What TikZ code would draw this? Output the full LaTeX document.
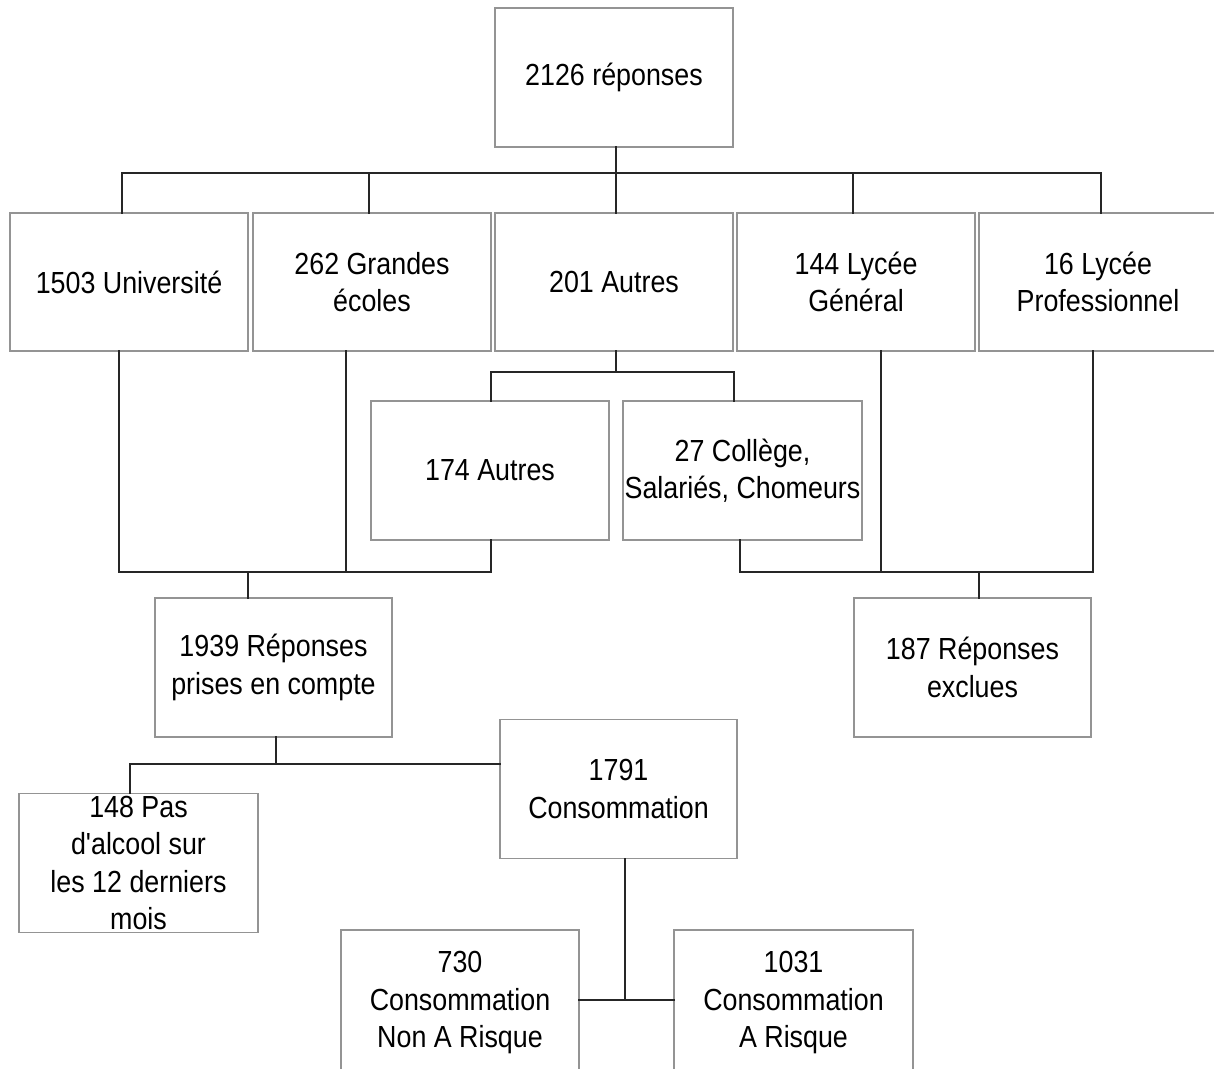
\documentclass[tikz,border=0pt]{standalone}
\usepackage{fontspec}
\newfontfamily\arl{Liberation Sans}[FakeStretch=0.88]
\begin{document}
\begin{tikzpicture}[x=1pt,y=-1pt,
  box/.style={draw=black!42, line width=1.3pt, fill=white, rectangle, inner sep=0pt, outer sep=0pt,
    align=center, font=\arl\fontsize{30.5}{37.5}\selectfont, text=black},
  conn/.style={draw=black!85, line width=1.8pt, line cap=rect}]
\useasboundingbox (0,0) rectangle (1214,1068);
\fill[white] (0,0) rectangle (1214,1068);
% boxes
\node[box, minimum width=238pt, minimum height=139pt] (top) at (614,77.5) {2126 réponses};
\node[box, minimum width=238pt, minimum height=138pt] (n1) at (129,282) {1503 Université};
\node[box, minimum width=238pt, minimum height=138pt] (n2) at (372,282) {262 Grandes\\écoles};
\node[box, minimum width=238pt, minimum height=138pt] (n3) at (614,282) {201 Autres};
\node[box, minimum width=238pt, minimum height=138pt] (n4) at (856,282) {144 Lycée\\Général};
\node[box, minimum width=238pt, minimum height=138pt] (n5) at (1098,282) {16 Lycée\\Professionnel};
\node[box, minimum width=238pt, minimum height=139pt] (a1) at (490,470.5) {174 Autres};
\node[box, minimum width=239pt, minimum height=139pt] (a2) at (742.5,470.5) {27 Collège,\\Salariés, Chomeurs};
\node[box, minimum width=237pt, minimum height=139pt] (r1) at (273.5,667.5) {1939 Réponses\\prises en compte};
\node[box, minimum width=237pt, minimum height=139pt] (r2) at (972.5,667.5) {187 Réponses\\exclues};
\node[box, minimum width=239pt, minimum height=139pt] (p1) at (138.5,863) {148 Pas\\d'alcool sur\\les 12 derniers\\mois};
\node[box, minimum width=237pt, minimum height=139pt] (c1) at (618.5,789) {1791\\Consommation};
\node[box, minimum width=238pt, minimum height=145pt] (k1) at (460,1002.5) {730\\Consommation\\Non A Risque};
\node[box, minimum width=239pt, minimum height=145pt] (k2) at (793.5,1002.5) {1031\\Consommation\\A Risque};
% junction coordinates
\coordinate (j0) at (616,173);
\coordinate (j1) at (248,572);
\coordinate (j2) at (616,372);
\coordinate (j5) at (979,572);
\coordinate (j3) at (276,764);
\coordinate (j4) at (625,1000);
% top bus
\draw[conn] (top.south -| j0) -- (j0);
\draw[conn] ([xshift=-7pt]n1.north) |- (j0) -| ([xshift=3pt]n5.north);
\draw[conn] ([xshift=-3pt]n2.north) -- ([xshift=-3pt]n2.north |- j0);
\draw[conn] ([xshift=2pt]n3.north) -- ([xshift=2pt]n3.north |- j0);
\draw[conn] ([xshift=-3pt]n4.north) -- ([xshift=-3pt]n4.north |- j0);
% 201 Autres split
\draw[conn] (n3.south -| j2) -- (j2);
\draw[conn] ([xshift=1pt]a1.north) |- (j2) -| ([xshift=-8.5pt]a2.north);
% left bus
\draw[conn] ([xshift=-10pt]n1.south) |- ([xshift=1pt]a1.south |- j1) -- ([xshift=1pt]a1.south);
\draw[conn] ([xshift=-26pt]n2.south) -- ([xshift=-26pt]n2.south |- j1);
\draw[conn] (j1) -- (j1 |- r1.north);
% right bus
\draw[conn] ([xshift=-2.5pt]a2.south) |- ([xshift=-5pt]n5.south |- j5) -- ([xshift=-5pt]n5.south);
\draw[conn] ([xshift=25pt]n4.south) -- ([xshift=25pt]n4.south |- j5);
\draw[conn] (j5) -- (j5 |- r2.north);
% 1939 split
\draw[conn] (r1.south -| j3) -- (j3);
\draw[conn] ([xshift=-8.5pt]p1.north) |- (c1.west |- j3);
% 1791 split
\draw[conn] (c1.south -| j4) -- (j4);
\draw[conn] (k1.east |- j4) -- (k2.west |- j4);
\end{tikzpicture}
\end{document}
